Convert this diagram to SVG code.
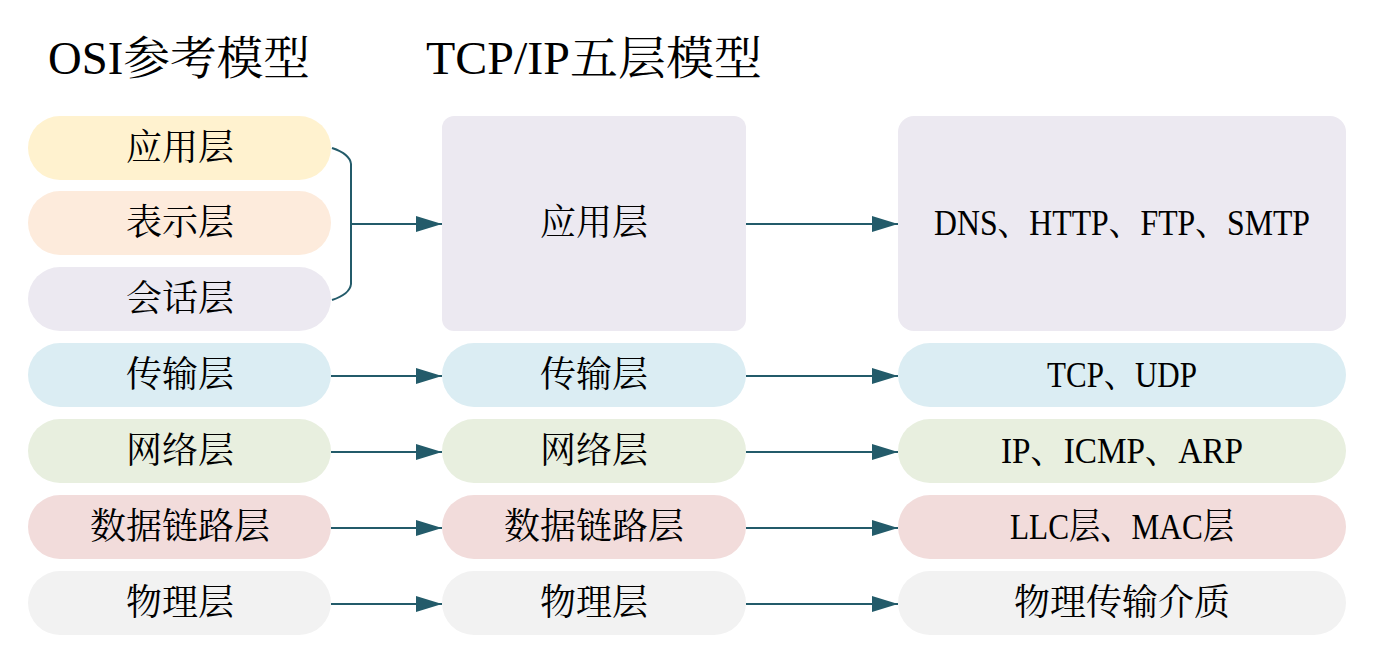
<svg xmlns="http://www.w3.org/2000/svg" width="1378" height="668" viewBox="0 0 1378 668">
<style>
text{font-family:"Liberation Serif","Noto Serif CJK SC","Noto Sans CJK SC",serif;fill:#000;}
.t{font-size:36px;text-anchor:middle;dominant-baseline:central;}
.h{font-size:46px;}
.c{fill:none;stroke:#235b6a;stroke-width:2;}
.y{fill:#fff2cf;}.p{fill:#fdebdc;}.v{fill:#ece9f1;}.b{fill:#dbedf3;}.g{fill:#e8efdf;}.r{fill:#f2dcdb;}.w{fill:#f2f2f2;}
</style>
<defs>
<marker id="ah" markerUnits="userSpaceOnUse" viewBox="0 0 26 16" markerWidth="26" markerHeight="16" refX="26" refY="8" orient="auto">
<path d="M0,0 L26,8 L0,16 z" fill="#235b6a"/>
</marker>
</defs>
<rect width="1378" height="668" fill="#fff"/>
<text class="h" x="48" y="74" textLength="262" lengthAdjust="spacingAndGlyphs">OSI参考模型</text>
<text class="h" x="426" y="74" textLength="336" lengthAdjust="spacingAndGlyphs">TCP/IP五层模型</text>

<g id="osi-app"><rect class="y" x="28" y="116" width="303" height="64" rx="32"/><text class="t" x="180" y="148">应用层</text></g>
<g id="osi-pres"><rect class="p" x="28" y="191" width="303" height="64" rx="32"/><text class="t" x="180" y="223">表示层</text></g>
<g id="osi-sess"><rect class="v" x="28" y="267" width="303" height="64" rx="32"/><text class="t" x="180" y="299">会话层</text></g>
<g id="osi-trans"><rect class="b" x="28" y="343" width="303" height="64" rx="32"/><text class="t" x="180" y="375">传输层</text></g>
<g id="osi-net"><rect class="g" x="28" y="419" width="303" height="64" rx="32"/><text class="t" x="180" y="451">网络层</text></g>
<g id="osi-link"><rect class="r" x="28" y="495" width="303" height="64" rx="32"/><text class="t" x="180" y="527">数据链路层</text></g>
<g id="osi-phy"><rect class="w" x="28" y="571" width="303" height="64" rx="32"/><text class="t" x="180" y="603">物理层</text></g>

<g id="tcp-app"><rect class="v" x="442" y="116" width="304" height="215" rx="12"/><text class="t" x="594" y="223">应用层</text></g>
<g id="tcp-trans"><rect class="b" x="442" y="343" width="304" height="64" rx="32"/><text class="t" x="594" y="375">传输层</text></g>
<g id="tcp-net"><rect class="g" x="442" y="419" width="304" height="64" rx="32"/><text class="t" x="594" y="451">网络层</text></g>
<g id="tcp-link"><rect class="r" x="442" y="495" width="304" height="64" rx="32"/><text class="t" x="594" y="527">数据链路层</text></g>
<g id="tcp-phy"><rect class="w" x="442" y="571" width="304" height="64" rx="32"/><text class="t" x="594" y="603">物理层</text></g>

<g id="proto-app"><rect class="v" x="898" y="116" width="448" height="215" rx="16"/><text class="t" x="1122" y="223" textLength="376" lengthAdjust="spacingAndGlyphs">DNS、HTTP、FTP、SMTP</text></g>
<g id="proto-trans"><rect class="b" x="898" y="343" width="448" height="64" rx="32"/><text class="t" x="1122" y="375" textLength="150" lengthAdjust="spacingAndGlyphs">TCP、UDP</text></g>
<g id="proto-net"><rect class="g" x="898" y="419" width="448" height="64" rx="32"/><text class="t" x="1122" y="451" textLength="242" lengthAdjust="spacingAndGlyphs">IP、ICMP、ARP</text></g>
<g id="proto-link"><rect class="r" x="898" y="495" width="448" height="64" rx="32"/><text class="t" x="1122" y="527" textLength="224" lengthAdjust="spacingAndGlyphs">LLC层、MAC层</text></g>
<g id="proto-phy"><rect class="w" x="898" y="571" width="448" height="64" rx="32"/><text class="t" x="1122" y="603">物理传输介质</text></g>

<g id="connectors">
<path class="c" d="M332,148 Q350,154 351,164 L351,284 Q350,294 332,300"/>
<path class="c" d="M351,224 L442,224" marker-end="url(#ah)"/>
<path class="c" d="M746,224 L898,224" marker-end="url(#ah)"/>
<path class="c" d="M331,376 L442,376" marker-end="url(#ah)"/>
<path class="c" d="M746,376 L898,376" marker-end="url(#ah)"/>
<path class="c" d="M331,452 L442,452" marker-end="url(#ah)"/>
<path class="c" d="M746,452 L898,452" marker-end="url(#ah)"/>
<path class="c" d="M331,528 L442,528" marker-end="url(#ah)"/>
<path class="c" d="M746,528 L898,528" marker-end="url(#ah)"/>
<path class="c" d="M331,604 L442,604" marker-end="url(#ah)"/>
<path class="c" d="M746,604 L898,604" marker-end="url(#ah)"/>
</g>
</svg>
